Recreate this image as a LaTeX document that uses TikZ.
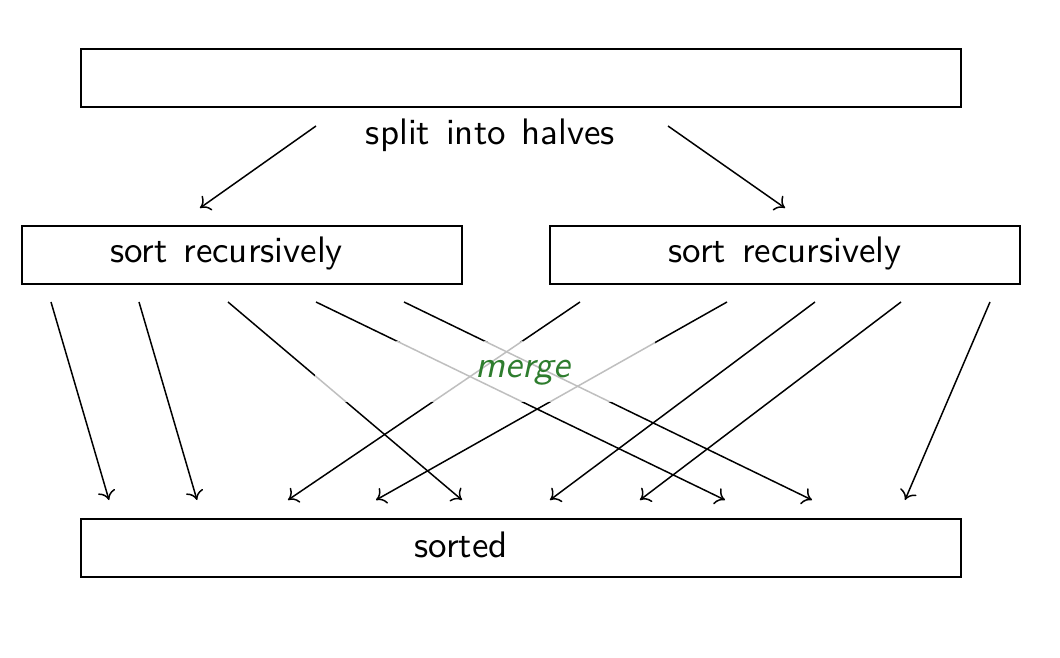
\documentclass[tikz,border=0pt]{standalone}
\usetikzlibrary{fit,arrows.meta}
\definecolor{mergegreen}{RGB}{46,125,46}
\begin{document}
\begin{tikzpicture}[x=0.2817pt,y=-0.2817pt,
  box/.style={draw,line width=0.45pt,inner sep=0pt},
  lbl/.style={font={\fontsize{10.4pt}{12pt}\sffamily\spaceskip=4.5pt plus 1pt\relax},inner sep=0pt,anchor=base},
  arr/.style={-{To[length=2.6pt,width=5pt]},line width=0.42pt},
  greyline/.style={line width=0.42pt,draw=black!25}]
\useasboundingbox (0,0) rectangle (1060,658);
% boxes
\node[box,fit={(81,49)(961,107)}] (top) {};
\node[box,fit={(22,226)(462,284)}] (left) {};
\node[box,fit={(550,226)(1020,284)}] (right) {};
\node[box,fit={(81,519)(961,577)}] (sorted) {};
% labels
\node[lbl] (split) at (490.5,145) {split into halves};
\node[lbl] (lsort) at (226.5,263) {sort recursively};
\node[lbl] (rsort) at (785,263) {sort recursively};
\node[lbl] (sortedlbl) at (461,557) {sorted};
% split arrows
\coordinate (a1) at (316,126); \coordinate (b1) at (200,208);
\coordinate (a2) at (668,126); \coordinate (b2) at (785,208);
\draw[arr] (a1) -- (b1);
\draw[arr] (a2) -- (b2);
% merge arrows
\foreach \i/\sx/\ex in {1/51/109, 2/139/197, 3/228/462, 4/316/725, 5/404/812,
                        6/580/288, 7/727/376, 8/815/550, 9/901/640, 10/990/905}{
  \coordinate (s\i) at (\sx,302);
  \coordinate (e\i) at (\ex,500);
}
\foreach \i in {1,...,10}{ \draw[arr] (s\i) -- (e\i); }
% faded middle region
\fill[white] (315,342) rectangle (655,402);
\begin{scope}
  \clip (315,342) rectangle (655,402);
  \foreach \i in {1,...,10}{ \draw[greyline] (s\i) -- (e\i); }
\end{scope}
\node[inner sep=0pt,anchor=base,font=\fontsize{10.6pt}{12pt}\sffamily\itshape,text=mergegreen] (merge) at (523,377) {merge};
\end{tikzpicture}
\end{document}
